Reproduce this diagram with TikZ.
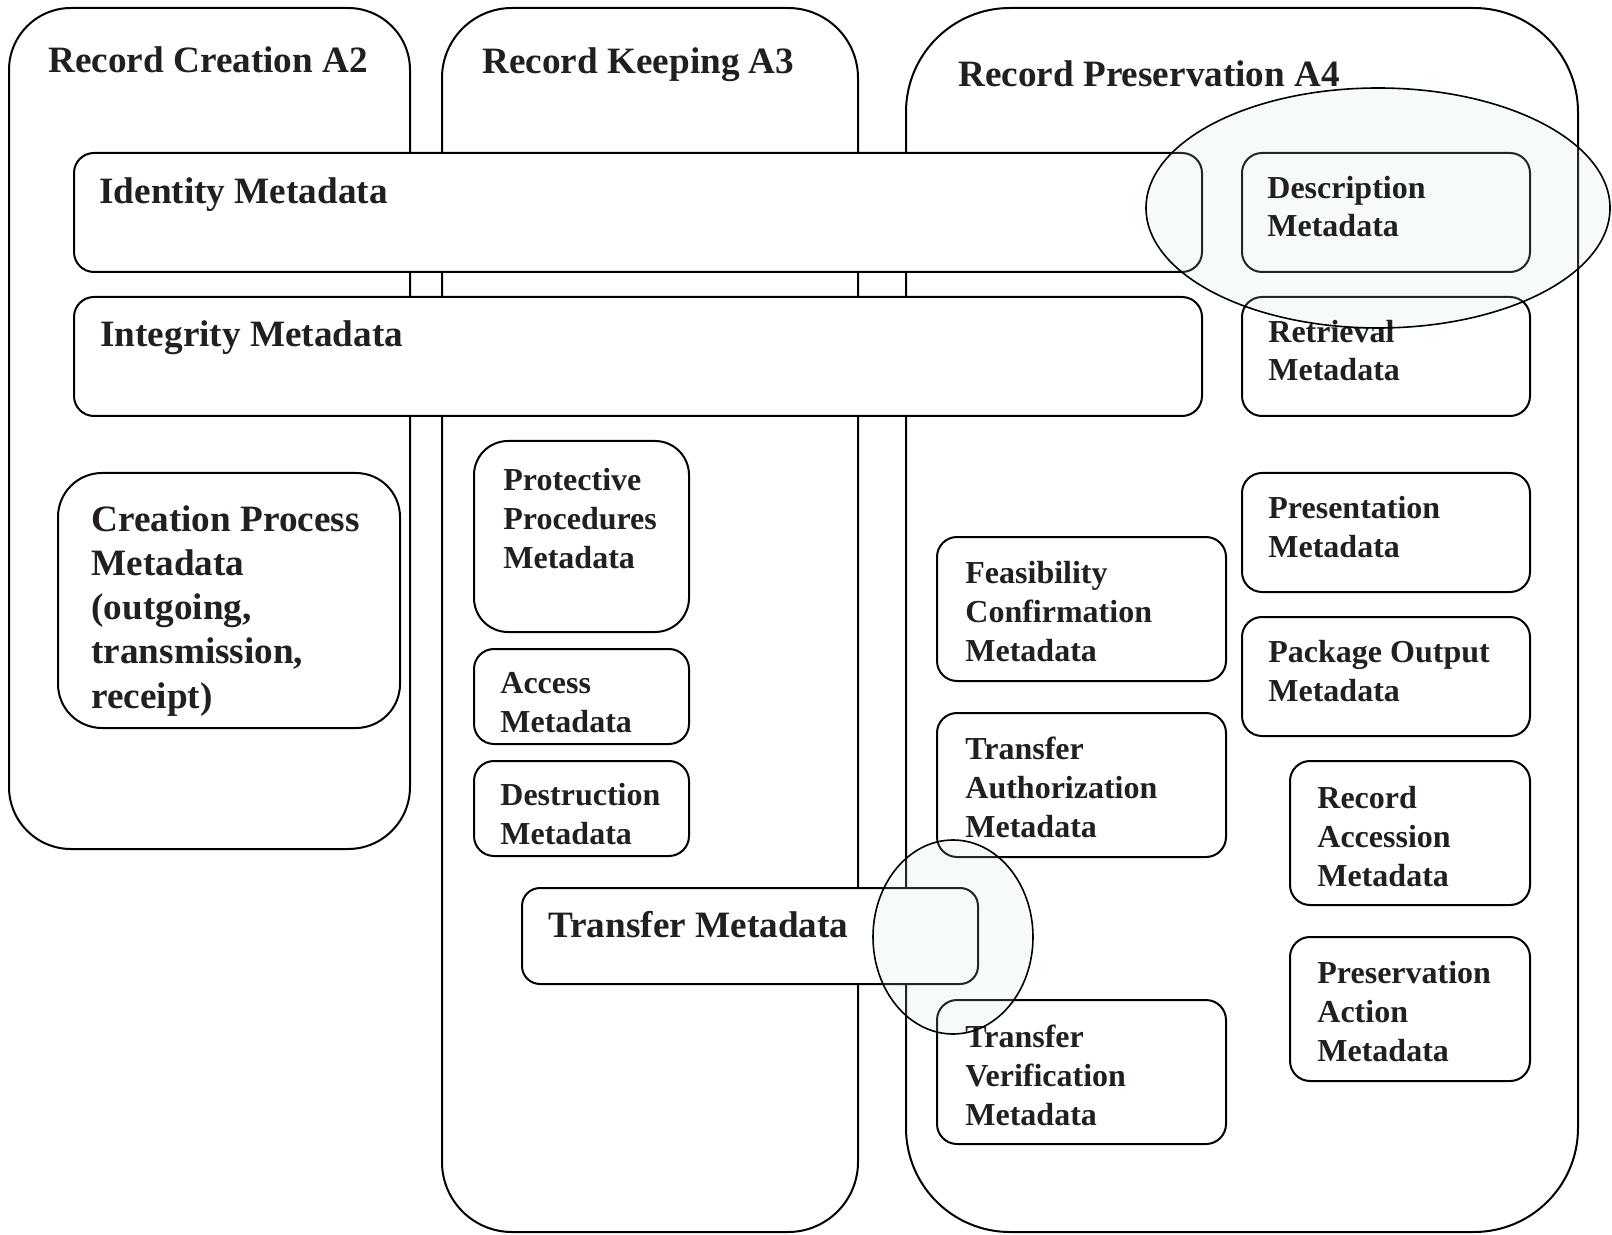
\documentclass[tikz,border=0pt]{standalone}
\usepackage{fontspec}
\setmainfont{Liberation Serif}
\definecolor{inkdark}{HTML}{231F20}
\definecolor{ringtint}{HTML}{CFE6E6}

\begin{document}
\begin{tikzpicture}[
        x=0.5pt, y=-0.5pt,
        every node/.style={inner sep=0pt, text=inkdark, align=left, anchor=base west},
        lane/.style={draw=black, line width=1pt, fill=white},
        box/.style={draw=black, line width=1pt, fill=white, rounded corners=10pt},
        big/.style={font=\fontsize{18.6}{22.1}\selectfont\bfseries},
        small/.style={font=\fontsize{16}{19.4}\selectfont\bfseries},
        ringfill/.style={fill=ringtint, fill opacity=0.17},
        ring/.style={draw=black, line width=0.8pt},
      ]
      \useasboundingbox (0,0) rectangle (1612,1235);

      % the three activity columns
      \draw[lane, rounded corners=31pt]   (9,8)   rectangle (410,849);
      \draw[lane, rounded corners=35pt]   (442,8) rectangle (858,1232);
      \draw[lane, rounded corners=52pt]   (906,8) rectangle (1578,1232);

      % boxes spanning the columns
      \draw[box] (74,153) rectangle (1202,272);
      \draw[box] (74,297) rectangle (1202,416);

      % A2
      \draw[box, rounded corners=22pt] (58,473) rectangle (400,728);

      % A3
      \draw[box, rounded corners=17pt] (474,441) rectangle (689,632);
      \draw[box] (474,649) rectangle (689,744);
      \draw[box] (474,761) rectangle (689,856);
      \draw[box, rounded corners=9pt] (522,888) rectangle (978,984);

      % A4
      \draw[box] (1242,153)  rectangle (1530,272);
      \draw[box] (1242,297)  rectangle (1530,416);
      \draw[box] (1242,473)  rectangle (1530,592);
      \draw[box] (1242,617)  rectangle (1530,736);
      \draw[box] (1290,761)  rectangle (1530,905);
      \draw[box] (1290,937)  rectangle (1530,1081);
      \draw[box] (937,537)   rectangle (1226,681);
      \draw[box] (937,713)   rectangle (1226,857);
      \draw[box] (937,1000)  rectangle (1226,1144);

      % tint of the highlighted overlaps
      \fill[ringfill] (1378,208) ellipse [x radius=232, y radius=120];
      \fill[ringfill] (953,937)  ellipse [x radius=80,  y radius=97];

      % texts (multi-line nodes sit on their last baseline)
      \node[big] (hdcreate)   at (48,73)  {Record Creation A2};
      \node[big] (hdkeep)     at (482,74) {Record Keeping A3};
      \node[big] (hdpreserve) at (958,87) {Record Preservation A4};
      \node[big] (ident) at (99,204)  {Identity Metadata};
      \node[big] (integ) at (100,347) {Integrity Metadata};
      \node[big] (crproc) at (91,708)
        {Creation Process\\Metadata\\(outgoing,\\transmission,\\receipt)};
      \node[small] (protect) at (503,568) {Protective\\Procedures\\Metadata};
      \node[small] (access)  at (500,732) {Access\\Metadata};
      \node[small] (destroy) at (500,844) {Destruction\\Metadata};
      \node[big]   (tmeta)   at (548,937) {Transfer Metadata};
      \node[small] (descr)   at (1267,237)  {Description\\Metadata};
      \node[small] (retr)    at (1268,381)  {Retrieval\\Metadata};
      \node[small] (present) at (1268,557)  {Presentation\\Metadata};
      \node[small] (package) at (1268,701)  {Package Output\\Metadata};
      \node[small] (accn)    at (1317,886)  {Record\\Accession\\Metadata};
      \node[small] (pact)    at (1317,1061) {Preservation\\Action\\Metadata};
      \node[small] (feas)    at (965,661)   {Feasibility\\Confirmation\\Metadata};
      \node[small] (tauth)   at (965,837)   {Transfer\\Authorization\\Metadata};
      \node[small] (tverify) at (965,1125)  {Transfer\\Verification\\Metadata};

      % outlines of the highlighted overlaps
      \draw[ring] (1378,208) ellipse [x radius=232, y radius=120];
      \draw[ring] (953,937)  ellipse [x radius=80,  y radius=97];
    \end{tikzpicture}
\end{document}
